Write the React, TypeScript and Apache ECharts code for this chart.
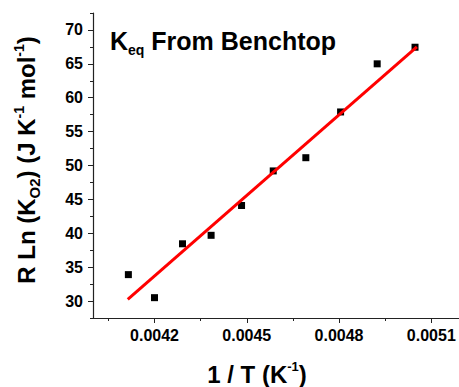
import React, { useEffect, useRef } from "react";
import * as echarts from "echarts";

const xValues = [0.004115, 0.0042, 0.004291, 0.004384, 0.004483, 0.004586, 0.004692, 0.004805, 0.004924, 0.005047];
const yValues = [33.9, 30.5, 38.45, 39.7, 44.1, 49.2, 51.15, 57.9, 65.0, 67.45];
const fitX = [0.004113, 0.005053];
const fitY = [30.25, 67.5];
const xMajorTicks = [0.0042, 0.0045, 0.0048, 0.0051];
const xMinorTicks = [0.00405, 0.00435, 0.00465, 0.00495];
const yMajorTicks = [30, 35, 40, 45, 50, 55, 60, 65, 70];
const yMinorTicks = [27.5, 32.5, 37.5, 42.5, 47.5, 52.5, 57.5, 62.5, 67.5, 72.5];

const FONT = "'Liberation Sans', Arial, sans-serif";
const AXIS_COLOR = "#222";

export default function App() {
  const ref = useRef<HTMLDivElement>(null);
  useEffect(() => {
    if (!ref.current) return;
    const chart = echarts.init(ref.current, null, { renderer: "svg" });
    const main = { fontSize: 24, fontWeight: "bold" as const, fontFamily: FONT, lineHeight: 30, fill: "#000" };
    const sub = { fontSize: 15, fontWeight: "bold" as const, fontFamily: FONT, lineHeight: 15, verticalAlign: "bottom" as const, fill: "#000" };
    const sup = { fontSize: 14, fontWeight: "bold" as const, fontFamily: FONT, lineHeight: 14, verticalAlign: "top" as const, fill: "#000" };
    chart.setOption({
      animation: false,
      grid: { left: 93, top: 13, right: 0, bottom: 69, containLabel: false },
      xAxis: [
        {
          type: "value",
          position: "bottom",
          min: 0.004,
          max: 0.00519,
          axisLine: { show: true, lineStyle: { color: AXIS_COLOR, width: 1.2 } },
          axisTick: { show: true, customValues: xMajorTicks, length: 5, lineStyle: { color: AXIS_COLOR } },
          axisLabel: {
            customValues: xMajorTicks,
            formatter: (v: number) => v.toFixed(4),
            fontSize: 16,
            fontWeight: "bold",
            fontFamily: FONT,
            color: "#000",
            margin: 9,
          },
          splitLine: { show: false },
        },
        {
          type: "value",
          position: "bottom",
          min: 0.004,
          max: 0.00519,
          axisLine: { show: false },
          axisTick: { show: true, customValues: xMinorTicks, length: 3, lineStyle: { color: AXIS_COLOR } },
          axisLabel: { show: false },
          splitLine: { show: false },
        },
      ],
      yAxis: [
        {
          type: "value",
          position: "left",
          min: 27.5,
          max: 72.5,
          axisLine: { show: true, lineStyle: { color: AXIS_COLOR, width: 1.2 } },
          axisTick: { show: true, customValues: yMajorTicks, length: 5, lineStyle: { color: AXIS_COLOR } },
          axisLabel: {
            customValues: yMajorTicks,
            fontSize: 16,
            fontWeight: "bold",
            fontFamily: FONT,
            color: "#000",
            margin: 10,
          },
          splitLine: { show: false },
        },
        {
          type: "value",
          position: "left",
          min: 27.5,
          max: 72.5,
          axisLine: { show: false },
          axisTick: { show: true, customValues: yMinorTicks, length: 3, lineStyle: { color: AXIS_COLOR } },
          axisLabel: { show: false },
          splitLine: { show: false },
        },
      ],
      series: [
        {
          type: "scatter",
          xAxisIndex: 0,
          yAxisIndex: 0,
          symbol: "rect",
          symbolSize: 7,
          itemStyle: { color: "#000", opacity: 1 },
          data: xValues.map((x, i) => [x, yValues[i]]),
          z: 2,
        },
        {
          type: "line",
          xAxisIndex: 0,
          yAxisIndex: 0,
          showSymbol: false,
          symbol: "none",
          lineStyle: { color: "#ff0000", width: 3 },
          data: fitX.map((x, i) => [x, fitY[i]]),
          z: 3,
        },
      ],
      graphic: [
        {
          type: "text",
          x: 110,
          y: 24.6,
          style: {
            text: "{a|K}{b|eq}{a| From Benchtop}",
            verticalAlign: "top",
            align: "left",
            rich: {
              a: { fontSize: 25, fontWeight: "bold", fontFamily: FONT, lineHeight: 32, fill: "#000" },
              b: { fontSize: 14, fontWeight: "bold", fontFamily: FONT, lineHeight: 13, verticalAlign: "bottom", fill: "#000" },
            },
          },
        },
        {
          type: "text",
          x: 257,
          y: 359.7,
          style: {
            text: "{a|1 / T (K}{sup|-1}{a|)}",
            align: "center",
            verticalAlign: "top",
            rich: { a: main, sup: { ...sup, fontSize: 13, lineHeight: 13 } },
          },
        },
        {
          type: "text",
          x: 26.7,
          y: 160,
          rotation: Math.PI / 2,
          style: {
            text: "{a|R Ln (K}{sub|O2}{a|) (J K}{sup|-1}{a| mol}{sup|-1}{a|)}",
            align: "center",
            verticalAlign: "middle",
            rich: { a: main, sub, sup },
          },
        },
      ],
    });
    return () => chart.dispose();
  }, []);
  return (
    <div
      ref={ref}
      style={{ position: "fixed", left: 0, top: 0, width: 459, height: 387, background: "#fff" }}
    />
  );
}
